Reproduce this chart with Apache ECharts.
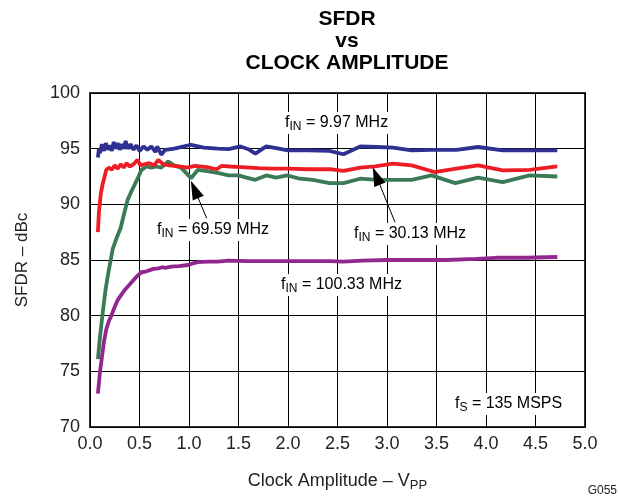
<!DOCTYPE html>
<html>
<head>
<meta charset="utf-8">
<script src="https://cdn.jsdelivr.net/npm/echarts@6/dist/echarts.min.js"></script>
<style>
html,body{margin:0;padding:0;background:#fff;}
#chart{width:619px;height:497px;}
</style>
</head>
<body>
<div id="chart"></div>
<script>
// ---- data ----
const xTicks = [0.0, 0.5, 1.0, 1.5, 2.0, 2.5, 3.0, 3.5, 4.0, 4.5, 5.0];
const yTicks = [70, 75, 80, 85, 90, 95, 100];

const f997 = [[0.08,94.2],[0.09,95.0],[0.10,94.6],[0.12,95.4],[0.14,94.8],[0.16,95.5],[0.18,94.9],[0.20,95.3],[0.22,94.8],[0.24,95.6],[0.26,95.0],[0.28,95.5],[0.30,94.9],[0.32,95.4],[0.34,95.0],[0.36,95.7],[0.38,95.0],[0.41,95.4],[0.44,94.9],[0.47,95.3],[0.50,94.8],[0.54,95.2],[0.58,94.9],[0.62,95.2],[0.66,94.7],[0.68,95.2],[0.72,94.45],[0.76,94.9],[0.85,95.0],[0.95,95.2],[1.02,95.35],[1.15,95.1],[1.29,95.0],[1.4,94.95],[1.52,95.2],[1.6,94.95],[1.67,94.55],[1.78,95.2],[1.88,95.05],[2.0,94.85],[2.2,94.85],[2.42,94.8],[2.56,94.5],[2.73,95.2],[2.9,95.15],[3.06,95.1],[3.25,94.85],[3.45,94.9],[3.7,94.9],[3.92,95.15],[4.17,94.85],[4.45,94.85],[4.72,94.85]];

const f3013 = [[0.08,87.5],[0.09,89.3],[0.11,91.0],[0.13,91.9],[0.165,93.1],[0.19,93.3],[0.22,93.1],[0.25,93.5],[0.28,93.2],[0.31,93.6],[0.34,93.3],[0.37,93.7],[0.40,93.4],[0.44,93.6],[0.48,94.0],[0.51,93.5],[0.55,93.6],[0.60,93.7],[0.65,93.5],[0.69,94.0],[0.74,93.6],[0.8,93.5],[0.9,93.4],[0.98,93.3],[1.06,93.45],[1.18,93.35],[1.28,93.15],[1.33,93.45],[1.42,93.4],[1.53,93.35],[1.7,93.25],[1.84,93.2],[2.0,93.2],[2.2,93.15],[2.44,93.15],[2.56,93.0],[2.73,93.3],[2.88,93.4],[3.06,93.65],[3.25,93.5],[3.48,92.9],[3.7,93.2],[3.92,93.5],[4.17,93.05],[4.44,93.1],[4.72,93.4]];

const f6959 = [[0.08,76.1],[0.1,78.0],[0.13,80.4],[0.155,82.2],[0.18,83.6],[0.205,84.8],[0.23,86.0],[0.27,87.0],[0.31,87.9],[0.34,89.0],[0.38,90.4],[0.42,91.2],[0.45,91.75],[0.49,92.5],[0.52,93.1],[0.57,93.4],[0.62,93.3],[0.67,93.4],[0.72,93.3],[0.79,93.85],[0.85,93.5],[0.92,93.3],[1.02,92.35],[1.09,93.1],[1.2,92.95],[1.3,92.8],[1.4,92.6],[1.5,92.6],[1.58,92.4],[1.67,92.2],[1.78,92.6],[1.88,92.4],[1.99,92.6],[2.12,92.3],[2.25,92.2],[2.42,91.9],[2.56,91.9],[2.73,92.3],[2.9,92.2],[3.06,92.2],[3.25,92.2],[3.45,92.6],[3.69,91.9],[3.92,92.4],[4.17,92.0],[4.44,92.6],[4.72,92.5]];

const f10033 = [[0.08,73.0],[0.1,74.9],[0.115,75.9],[0.14,77.6],[0.165,78.8],[0.19,79.5],[0.215,80.0],[0.25,80.8],[0.28,81.4],[0.31,81.8],[0.35,82.3],[0.38,82.6],[0.42,83.0],[0.47,83.5],[0.52,83.9],[0.56,83.95],[0.59,84.05],[0.64,84.2],[0.69,84.25],[0.73,84.35],[0.76,84.3],[0.82,84.4],[0.9,84.45],[0.99,84.55],[1.04,84.7],[1.09,84.8],[1.2,84.85],[1.29,84.85],[1.4,84.95],[1.6,84.9],[1.8,84.9],[2.0,84.9],[2.2,84.9],[2.42,84.9],[2.56,84.85],[2.75,84.95],[3.0,85.0],[3.3,85.0],[3.6,85.0],[3.9,85.1],[4.1,85.2],[4.4,85.2],[4.72,85.27]];

// annotation arrows in data space: [from, to]
const arrows = [
  [[1.179, 88.75], [1.056, 91.34]],
  [[3.081, 88.39], [2.892, 92.55]]
];

// annotation texts: [main, subscript, rest]
const annoTexts = [
  ['f', 'IN', ' = 9.97 MHz'],
  ['f', 'IN', ' = 69.59 MHz'],
  ['f', 'IN', ' = 30.13 MHz'],
  ['f', 'IN', ' = 100.33 MHz'],
  ['f', 'S', ' = 135 MSPS']
];
const titleText = 'SFDR\nvs\nCLOCK AMPLITUDE';
const xName = ['Clock Amplitude \u2013 V', 'PP'];
const yName = 'SFDR \u2013 dBc';
const figId = 'G055';

// ---- layout / style ----
const annoPos = [[283,123],[155,230],[352,234],[279,285],[453,404]];
const FONT = '"Liberation Sans", Arial, Helvetica, sans-serif';
const richStyle = {
  m: {fontSize: 16, fontFamily: FONT, color: '#222', lineHeight: 20},
  s: {fontSize: 12, fontFamily: FONT, color: '#222', lineHeight: 12, verticalAlign: 'bottom'}
};

const chart = echarts.init(document.getElementById('chart'), null, {renderer: 'canvas'});

const graphics = annoTexts.map((t, i) => ({
  type: 'text',
  left: annoPos[i][0],
  top: annoPos[i][1] - 11,
  z: 50,
  style: {
    text: '{m|' + t[0] + '}{s|' + t[1] + '}{m|' + t[2] + '}',
    rich: richStyle,
    backgroundColor: '#fff',
    padding: [1, 2, 1, 2]
  }
}));
graphics.push({
  type: 'text', right: 2, bottom: 0, z: 50,
  style: {text: figId, fontSize: 12, fontFamily: FONT, fill: '#222'}
});

const mk = (name, data, color) => ({
  name, type: 'line', data, showSymbol: false, smooth: false,
  lineStyle: {color, width: 3.8}, itemStyle: {color}, z: 3
});

const series = [
  mk('fIN = 100.33 MHz', f10033, '#92278F'),
  mk('fIN = 69.59 MHz', f6959, '#3B7A57'),
  mk('fIN = 30.13 MHz', f3013, '#EE1C25'),
  mk('fIN = 9.97 MHz', f997, '#2E3192')
];
series[0].markLine = {
  silent: true,
  animation: false,
  symbol: ['none', 'triangle'],
  symbolSize: [12, 19],
  label: {show: false},
  lineStyle: {color: '#000', width: 1, type: 'solid'},
  data: arrows.map(a => [{coord: a[0]}, {coord: a[1]}])
};

chart.setOption({
  animation: false,
  backgroundColor: '#fff',
  title: {
    text: titleText,
    left: 342, top: 3, textAlign: 'center',
    textStyle: {fontSize: 21, fontWeight: 'bold', fontFamily: FONT, color: '#000', lineHeight: 22}
  },
  grid: {left: 90, right: 34, top: 93, bottom: 68, show: true, borderColor: '#333', borderWidth: 2, backgroundColor: 'transparent'},
  xAxis: {
    type: 'value', min: xTicks[0], max: xTicks[xTicks.length - 1], interval: 0.5,
    name: '{m|' + xName[0] + '}{s|' + xName[1] + '}',
    nameLocation: 'middle', nameGap: 43,
    nameTextStyle: {rich: {
      m: {fontSize: 18, fontFamily: FONT, color: '#222', lineHeight: 22},
      s: {fontSize: 13, fontFamily: FONT, color: '#222', lineHeight: 13, verticalAlign: 'bottom'}
    }},
    axisLine: {show: false}, axisTick: {show: false},
    axisLabel: {fontSize: 18, fontFamily: FONT, color: '#222', margin: 8, formatter: v => v.toFixed(1)},
    splitLine: {show: true, lineStyle: {color: '#000', width: 1}}
  },
  yAxis: {
    type: 'value', min: yTicks[0], max: yTicks[yTicks.length - 1], interval: 5,
    name: yName, nameLocation: 'middle', nameGap: 59, nameRotate: 90,
    nameTextStyle: {fontSize: 17, fontFamily: FONT, color: '#222'},
    axisLine: {show: false}, axisTick: {show: false},
    axisLabel: {fontSize: 18, fontFamily: FONT, color: '#222', margin: 10},
    splitLine: {show: true, lineStyle: {color: '#000', width: 1}}
  },
  graphic: graphics,
  series
});
</script>
</body>
</html>
